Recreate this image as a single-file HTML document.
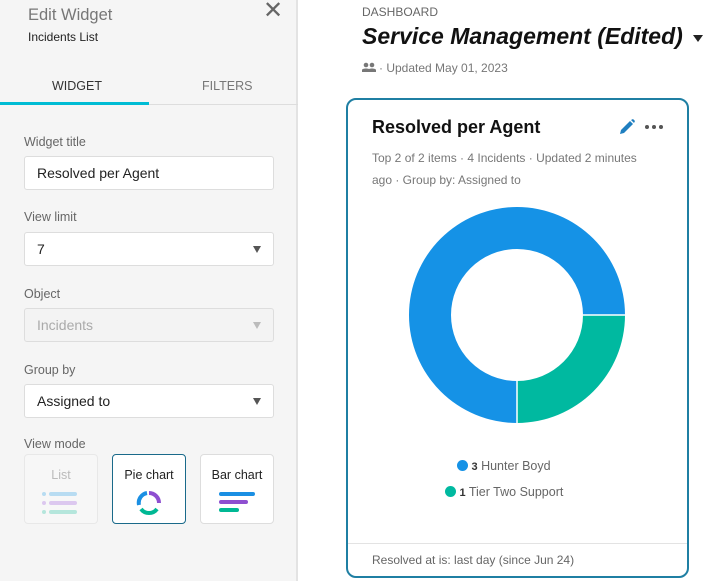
<!DOCTYPE html>
<html><head><style>
*{margin:0;padding:0;box-sizing:border-box}
body{width:708px;height:581px;overflow:hidden;background:#fff;font-family:"Liberation Sans","DejaVu Sans",sans-serif;position:relative}
.a{position:absolute;white-space:nowrap}
.panel{position:absolute;left:0;top:0;width:298px;height:581px;background:#f5f5f5;border-right:2px solid #e3e3e3}
.lbl{font-size:12.5px;color:#666}
.inp{position:absolute;left:24px;width:250px;height:34px;background:#fff;border:1px solid #ddd;border-radius:3px;font-size:14px;color:#222;padding:8px 0 0 12px}
.arr{position:absolute;right:12px;top:13px;width:0;height:0;border-left:4px solid transparent;border-right:4px solid transparent;border-top:7px solid #555}
.btn{position:absolute;top:454px;width:74px;height:70px;border:1px solid #ddd;border-radius:4px;background:#fff;font-size:12.5px;text-align:center;padding-top:13px;color:#222}
</style></head><body>
<div class="panel">
<div class="a" style="left:28px;top:6px;font-size:16.5px;color:#777">Edit Widget</div>
<div class="a" style="left:28px;top:30px;font-size:12px;color:#222">Incidents List</div>
<div class="a" style="left:263px;top:-4px;font-size:24px;color:#666">✕</div>
<div class="a" style="left:52px;top:79px;font-size:12.5px;color:#333">WIDGET</div>
<div class="a" style="left:202px;top:79px;font-size:12.5px;color:#777">FILTERS</div>
<div class="a" style="left:0;top:102px;width:149px;height:3px;background:#00bcd4"></div>
<div class="a" style="left:149px;top:104px;width:149px;height:1px;background:#ddd"></div>
<div class="a lbl" style="left:24px;top:135px">Widget title</div>
<div class="inp" style="top:156px">Resolved per Agent</div>
<div class="a lbl" style="left:24px;top:210px">View limit</div>
<div class="inp" style="top:232px">7<div class="arr"></div></div>
<div class="a lbl" style="left:24px;top:287px">Object</div>
<div class="inp" style="top:308px;background:#f3f3f3;color:#aaa">Incidents<div class="arr" style="border-top-color:#bbb"></div></div>
<div class="a lbl" style="left:24px;top:363px">Group by</div>
<div class="inp" style="top:384px">Assigned to<div class="arr"></div></div>
<div class="a lbl" style="left:24px;top:437px">View mode</div>
<div class="btn" style="left:24px;color:#bbb;background:#f7f7f7;border-color:#e8e8e8">List
<svg width="40" height="26" style="display:block;margin:9px auto 0"><circle cx="3" cy="3" r="2" fill="#b8dcf2"/><rect x="8" y="1" width="28" height="4" rx="2" fill="#b8dcf2"/><circle cx="3" cy="12" r="2" fill="#dcc8ef"/><rect x="8" y="10" width="28" height="4" rx="2" fill="#dcc8ef"/><circle cx="3" cy="21" r="2" fill="#b5e6dc"/><rect x="8" y="19" width="28" height="4" rx="2" fill="#b5e6dc"/></svg></div>
<div class="btn" style="left:112px;border:1.5px solid #1a6a8a">Pie chart
<svg width="26" height="26" style="display:block;margin:8px auto 0"><g fill="none" stroke-width="4"><path d="M13 3A10 10 0 0 1 23 13" stroke="#8e4fd0"/><path d="M21 19A10 10 0 0 1 5 19" stroke="#00b894"/><path d="M3 15A10 10 0 0 1 11 3" stroke="#1a8fe3"/></g></svg></div>
<div class="btn" style="left:200px">Bar chart
<svg width="40" height="26" style="display:block;margin:8px auto 0"><rect x="2" y="2" width="36" height="4" rx="2" fill="#1a8fe3"/><rect x="2" y="10" width="29" height="4" rx="2" fill="#8e4fd0"/><rect x="2" y="18" width="20" height="4" rx="2" fill="#00b894"/></svg></div>
</div>
<div class="a" style="left:362px;top:5px;font-size:12px;color:#666">DASHBOARD</div>
<div class="a" style="left:362px;top:23px;font-size:23px;font-weight:bold;font-style:italic;color:#111">Service Management (Edited)</div>
<div class="a" style="left:693px;top:35px;width:0;height:0;border-left:5px solid transparent;border-right:5px solid transparent;border-top:7px solid #222"></div>
<svg class="a" style="left:362px;top:62px" width="14" height="10"><circle cx="4" cy="3" r="2.3" fill="#777"/><circle cx="10" cy="3" r="2.3" fill="#777"/><path d="M0 10v-2c0-2 8-2 8 0v2zM6 10v-2c0-2 8-2 8 0v2z" fill="#777"/></svg>
<div class="a" style="left:379px;top:61px;font-size:12px;color:#777">· Updated May 01, 2023</div>
<div class="a" style="left:346px;top:98px;width:343px;height:480px;border:2px solid #1f7fa3;border-radius:10px"></div>
<div class="a" style="left:372px;top:117px;font-size:18px;font-weight:bold;color:#111">Resolved per Agent</div>
<svg class="a" style="left:618px;top:118px" width="18" height="18"><path d="M2 16l1-4 9-9 3 3-9 9z" fill="#1f7fc0"/><path d="M13 2l2-1 2 2-1 2z" fill="#1f7fc0"/></svg>
<svg class="a" style="left:644px;top:123px" width="20" height="8"><circle cx="3" cy="4" r="2" fill="#555"/><circle cx="10" cy="4" r="2" fill="#555"/><circle cx="17" cy="4" r="2" fill="#555"/></svg>
<div class="a" style="left:372px;top:147px;font-size:12px;color:#777;line-height:22px">Top 2 of 2 items · 4 Incidents · Updated 2 minutes<br>ago · Group by: Assigned to</div>
<svg class="a" style="left:400px;top:200px" width="240" height="240">
<path d="M225 115A108 108 0 0 1 117 223L117 181A66 66 0 0 0 183 115Z" fill="#00b9a0"/>
<path d="M117 223A108 108 0 1 1 225 115L183 115A66 66 0 1 0 117 181Z" fill="#1592e6"/>
<line x1="183" y1="115" x2="226" y2="115" stroke="#fff" stroke-width="1.5"/>
<line x1="117" y1="181" x2="117" y2="224" stroke="#fff" stroke-width="1.5"/>
</svg>
<div class="a" style="left:457px;top:459px;font-size:12.5px;color:#666"><span style="display:inline-block;width:11px;height:11px;border-radius:50%;background:#1592e6;vertical-align:-1px"></span> <b style="color:#333;font-size:11px">3</b> Hunter Boyd</div>
<div class="a" style="left:445px;top:485px;font-size:12.5px;color:#666"><span style="display:inline-block;width:11px;height:11px;border-radius:50%;background:#00b9a0;vertical-align:-1px"></span> <b style="color:#333;font-size:11px">1</b> Tier Two Support</div>
<div class="a" style="left:348px;top:543px;width:339px;height:1px;background:#e3e3e3"></div>
<div class="a" style="left:372px;top:553px;font-size:12px;color:#666">Resolved at is: last day (since Jun 24)</div>
</body></html>
